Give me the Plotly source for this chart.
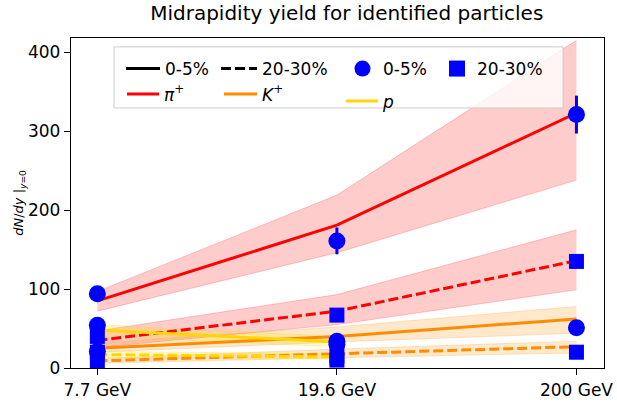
import plotly.graph_objects as go

# ---------------- data ----------------
energies = ["7.7 GeV", "19.6 GeV", "200 GeV"]

# model curves (lines) and uncertainty bands
pi_c0 = [85, 181, 323]
pi_c0_lo = [72, 146, 238]
pi_c0_hi = [97, 219, 415]
pi_c20 = [35, 72, 136]
pi_c20_lo = [26, 55, 99]
pi_c20_hi = [47, 93, 175]
k_c0 = [25, 40, 62]
k_c0_lo = [20, 33, 44]
k_c0_hi = [32, 52, 78]
k_c20 = [9, 18, 27]
k_c20_lo = [6, 13, 19]
k_c20_hi = [12, 24, 34]
p_c0 = [48, 33, None]
p_c0_lo = [40, 27, None]
p_c0_hi = [55, 40, None]
p_c20 = [17, 14, None]
p_c20_lo = [13, 11, None]
p_c20_hi = [21, 18, None]

# measured data points
pi_d0 = [94, 161, 321]
pi_d0_err = [5, 17, 24]
pi_d20 = [40, 67, 135]
pi_d20_err = [3, 5, 8]
k_d0 = [21, 30, 51]
k_d0_err = [1, 2, 4]
k_d20 = [8, 10, 20]
k_d20_err = [1, 1, 2]
p_d0 = [54, 34, None]
p_d0_err = [3, 2, None]
p_d20 = [20, 15, None]
p_d20_err = [2, 1, None]

RED = "#ff0000"
ORANGE = "#ff8c00"
GOLD = "#ffd700"
BLUE = "#0000ff"
FILL = {RED: "rgba(255,0,0,0.2)", ORANGE: "rgba(255,140,0,0.2)", GOLD: "rgba(255,215,0,0.2)"}
EDGE = {RED: "rgba(255,0,0,0.2)", ORANGE: "rgba(255,140,0,0.2)", GOLD: "rgba(255,215,0,0.25)"}


def valid(xs, *arrs):
    idx = [i for i in range(len(xs)) if all(a[i] is not None for a in arrs)]
    return [xs[i] for i in idx], [[a[i] for i in idx] for a in arrs]


fig = go.Figure()

bands = [
    (pi_c0_lo, pi_c0_hi, RED), (pi_c20_lo, pi_c20_hi, RED),
    (k_c0_lo, k_c0_hi, ORANGE), (k_c20_lo, k_c20_hi, ORANGE),
    (p_c0_lo, p_c0_hi, GOLD), (p_c20_lo, p_c20_hi, GOLD),
]
for lo, hi, col in bands:
    xs, (l, h) = valid(energies, lo, hi)
    fig.add_trace(go.Scatter(x=xs, y=h, mode="lines", line=dict(color=EDGE[col], width=1),
                             showlegend=False, hoverinfo="skip"))
    fig.add_trace(go.Scatter(x=xs, y=l, mode="lines", line=dict(color=EDGE[col], width=1),
                             fill="tonexty", fillcolor=FILL[col], showlegend=False, hoverinfo="skip"))

DASH = "10px,4px"
curves = [
    (pi_c0, RED, "solid"), (pi_c20, RED, DASH),
    (k_c0, ORANGE, "solid"), (k_c20, ORANGE, DASH),
    (p_c0, GOLD, "solid"), (p_c20, GOLD, DASH),
]
for ys, col, dash in curves:
    xs, (y,) = valid(energies, ys)
    fig.add_trace(go.Scatter(x=xs, y=y, mode="lines", line=dict(color=col, width=3, dash=dash),
                             showlegend=False))

points = [
    (pi_d0, pi_d0_err, "circle", 17), (pi_d20, pi_d20_err, "square", 15),
    (k_d0, k_d0_err, "circle", 17), (k_d20, k_d20_err, "square", 15),
    (p_d0, p_d0_err, "circle", 17), (p_d20, p_d20_err, "square", 15),
]
for ys, es, sym, sz in points:
    xs, (y, e) = valid(energies, ys, es)
    fig.add_trace(go.Scatter(x=xs, y=y, mode="markers",
                             marker=dict(color=BLUE, symbol=sym, size=sz, line=dict(width=0)),
                             error_y=dict(type="data", array=e, color=BLUE, thickness=3, width=0),
                             showlegend=False))

# legend entries: one legend per entry so each sits where the reference puts it
# (legend id, trace style, x position px, itemwidth, y paper)
leg = [
    ("legend", dict(name="0-5%", mode="lines", line=dict(color="black", width=3)), 121, 34, 0.906),
    ("legend2", dict(name="20-30%", mode="lines", line=dict(color="black", width=3, dash=DASH)), 216, 36, 0.906),
    ("legend3", dict(name="0-5%", mode="markers", marker=dict(color=BLUE, symbol="circle", size=16)), 342, 31, 0.906),
    ("legend4", dict(name="20-30%", mode="markers", marker=dict(color=BLUE, symbol="square", size=16)), 437, 30, 0.906),
    ("legend5", dict(name="<i>π</i><sup>+</sup>", mode="lines", line=dict(color=RED, width=3)), 122, 32, 0.829),
    ("legend6", dict(name="<i>K</i><sup>+</sup>", mode="lines", line=dict(color=ORANGE, width=3)), 219, 33, 0.829),
    ("legend7", dict(name="<i>p</i>", mode="lines", line=dict(color=GOLD, width=3)), 341, 32, 0.808),
]
FONT = "DejaVu Sans"
L, R = 71, 13
PW = 617 - L - R
legend_layout = {}
for lg, d, xpx, iw, yp in leg:
    fig.add_trace(go.Scatter(x=[None], y=[None], showlegend=True, legend=lg, **d))
    legend_layout[lg] = dict(orientation="h", xanchor="left", yanchor="middle",
                             x=(xpx - L) / PW, y=yp,
                             bgcolor="rgba(0,0,0,0)", borderwidth=0,
                             font=dict(size=17, family=FONT), itemwidth=iw,
                             tracegroupgap=0, traceorder="normal")

fig.update_layout(
    width=617, height=402,
    margin=dict(l=L, r=R, t=38, b=34),
    plot_bgcolor="white", paper_bgcolor="white",
    font=dict(family=FONT, size=17, color="black"),
    title=dict(text="Midrapidity yield for identified particles", x=0.562, xanchor="center",
               y=0.985, yanchor="top", font=dict(size=20, family=FONT)),
    showlegend=True,
    shapes=[dict(type="rect", xref="paper", yref="paper", x0=(114 - L) / PW, x1=(563 - L) / PW,
                 y0=0.788, y1=0.973, fillcolor="rgba(255,255,255,0.8)",
                 line=dict(color="#cccccc", width=1), layer="above")],
    xaxis=dict(type="category", range=[-0.11, 2.115], showline=True, linecolor="black",
               linewidth=1.3, mirror=True, ticks="outside", ticklen=6, tickwidth=1.3,
               tickcolor="black", showgrid=False, zeroline=False, automargin=False,
               tickfont=dict(size=17, family=FONT)),
    yaxis=dict(range=[0, 418], showline=True, linecolor="black", linewidth=1.3, mirror=True,
               ticks="outside", ticklen=6, tickwidth=1.3, tickcolor="black", showgrid=False,
               zeroline=False, tickvals=[0, 100, 200, 300, 400],
               tickfont=dict(size=17, family=FONT),
               title=dict(text="<i>dN</i>/<i>dy</i> |<sub><i>y</i>=0</sub>",
                          font=dict(size=13, family=FONT), standoff=0)),
    **legend_layout,
)

fig.write_html("out.html")
